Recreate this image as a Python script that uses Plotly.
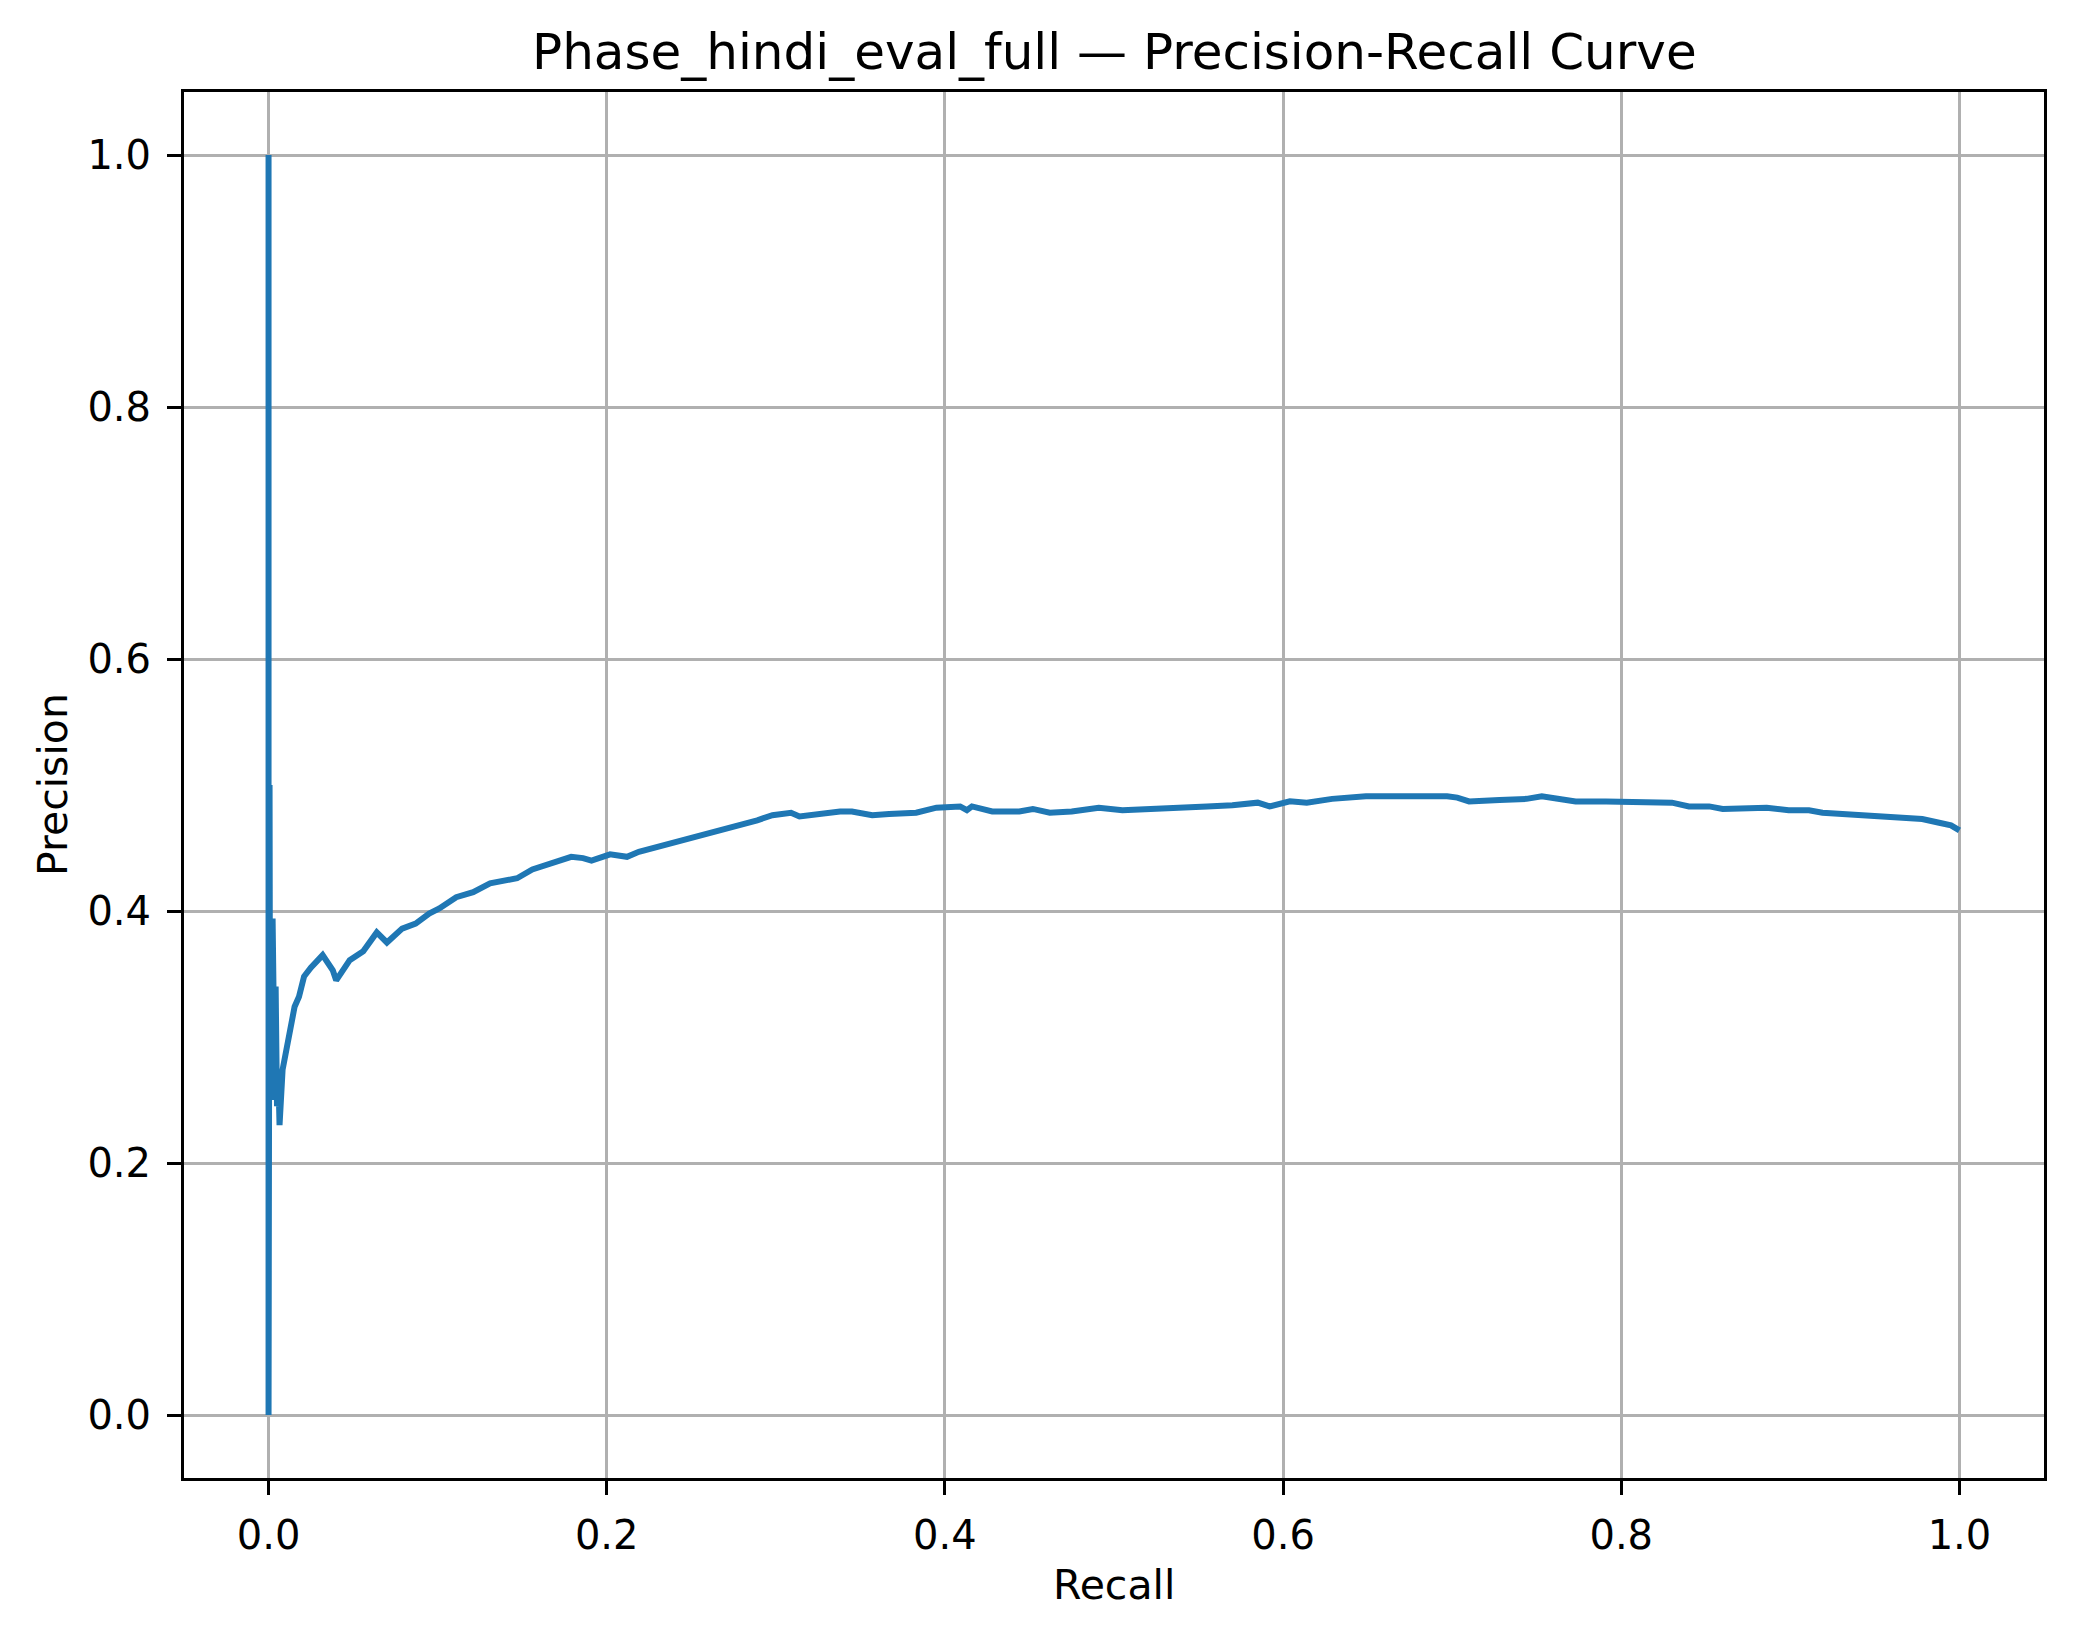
import plotly.graph_objects as go

# Recall / precision values
recall = [
    0.0, 0.0, 0.0006, 0.0009, 0.0015, 0.0021, 0.0024, 0.0030, 0.0036, 0.0042,
    0.0050, 0.0058, 0.0065, 0.0083, 0.0124, 0.0154, 0.018, 0.021, 0.025, 0.032,
    0.038, 0.040, 0.048, 0.056, 0.064, 0.070, 0.079, 0.087, 0.095, 0.101,
    0.111, 0.121, 0.131, 0.141, 0.147, 0.156, 0.170, 0.179, 0.186, 0.191,
    0.202, 0.212, 0.219, 0.239, 0.289, 0.298, 0.309, 0.314, 0.324, 0.338,
    0.345, 0.357, 0.367, 0.383, 0.395, 0.409, 0.413, 0.416, 0.428, 0.444,
    0.452, 0.462, 0.475, 0.491, 0.505, 0.529, 0.555, 0.570, 0.585, 0.592,
    0.604, 0.614, 0.629, 0.649, 0.667, 0.685, 0.697, 0.703, 0.710, 0.728,
    0.744, 0.753, 0.763, 0.773, 0.791, 0.801, 0.811, 0.830, 0.840, 0.852,
    0.860, 0.886, 0.899, 0.911, 0.919, 0.939, 0.959, 0.978, 0.988, 0.995,
    1.000,
]
precision = [
    1.0, 0.0, 0.50, 0.25, 0.30, 0.36, 0.394, 0.33, 0.25, 0.34,
    0.245, 0.27, 0.230, 0.274, 0.306, 0.324, 0.332, 0.348, 0.355, 0.365,
    0.353, 0.345, 0.361, 0.368, 0.383, 0.375, 0.386, 0.390, 0.398, 0.402,
    0.411, 0.415, 0.422, 0.425, 0.426, 0.433, 0.439, 0.443, 0.442, 0.440,
    0.445, 0.443, 0.447, 0.454, 0.472, 0.476, 0.478, 0.475, 0.477, 0.479,
    0.479, 0.476, 0.477, 0.478, 0.482, 0.483, 0.480, 0.483, 0.479, 0.479,
    0.481, 0.478, 0.479, 0.482, 0.480, 0.482, 0.483, 0.484, 0.486, 0.483,
    0.487, 0.486, 0.489, 0.491, 0.491, 0.492, 0.491, 0.490, 0.487, 0.488,
    0.489, 0.491, 0.489, 0.487, 0.487, 0.487, 0.486, 0.486, 0.483, 0.483,
    0.481, 0.482, 0.480, 0.480, 0.478, 0.476, 0.474, 0.473, 0.470, 0.468,
    0.464,
]
tick_vals = [0.0, 0.2, 0.4, 0.6, 0.8, 1.0]
tick_text = ["0.0", "0.2", "0.4", "0.6", "0.8", "1.0"]

title_text = "Phase_hindi_eval_full \u2014 Precision-Recall Curve"
x_label = "Recall"
y_label = "Precision"

FONT = "DejaVu Sans"
W, H = 2074, 1638
L, R, T, B = 184, 30, 92, 160
PW, PH = W - L - R, H - T - B

fig = go.Figure()
fig.add_trace(go.Scatter(
    x=recall, y=precision, mode="lines",
    line=dict(color="#1f77b4", width=6),
    showlegend=False, hoverinfo="skip",
))

axis_common = dict(
    showgrid=True, gridcolor="#b0b0b0", gridwidth=2.7,
    zeroline=False, showline=True, linecolor="black", linewidth=3,
    mirror=True, ticks="outside", ticklen=14, tickwidth=3, tickcolor="black",
    tickfont=dict(family=FONT, size=40, color="black"),
    tickvals=tick_vals, ticktext=tick_text,
)
fig.update_xaxes(range=[-0.05, 1.05], ticklabelstandoff=6, **axis_common)
fig.update_yaxes(range=[-0.05, 1.05], ticklabelstandoff=8, **axis_common)

fig.update_layout(
    width=W, height=H,
    margin=dict(l=L, r=R, t=T, b=B, pad=0),
    paper_bgcolor="white", plot_bgcolor="white",
    font=dict(family=FONT, color="black"),
    annotations=[
        dict(text=title_text, xref="paper", yref="paper",
             x=0.5, y=(H - B - 52) / PH, xanchor="center", yanchor="middle",
             showarrow=False, font=dict(family=FONT, size=50, color="black")),
        dict(text=x_label, xref="paper", yref="paper",
             x=0.5, y=(H - B - 1585) / PH, xanchor="center", yanchor="middle",
             showarrow=False, font=dict(family=FONT, size=41, color="black")),
        dict(text=y_label, xref="paper", yref="paper", textangle=-90,
             x=(53 - L) / PW, y=0.5, xanchor="center", yanchor="middle",
             showarrow=False, font=dict(family=FONT, size=41, color="black")),
    ],
)

fig.write_html("out.html", config={"displayModeBar": False},
               post_script="document.body.style.margin='0';")
